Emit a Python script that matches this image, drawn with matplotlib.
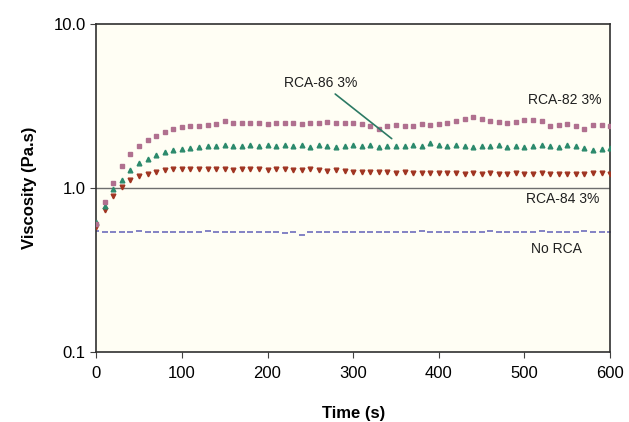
import matplotlib.pyplot as plt
from matplotlib.ticker import FixedLocator, FixedFormatter, NullLocator

plt.rcParams['font.family'] = ['Liberation Sans', 'DejaVu Sans']

time_s = list(range(0, 601, 10))

rca82 = [0.60, 0.82, 1.08, 1.36, 1.62, 1.80, 1.96, 2.08, 2.20, 2.30,
         2.36, 2.38, 2.40, 2.42, 2.44, 2.55, 2.48, 2.48, 2.50, 2.50,
         2.46, 2.48, 2.50, 2.50, 2.44, 2.50, 2.50, 2.52, 2.50, 2.50,
         2.48, 2.45, 2.38, 2.30, 2.40, 2.42, 2.38, 2.40, 2.45, 2.42,
         2.45, 2.50, 2.58, 2.62, 2.70, 2.62, 2.58, 2.52, 2.50, 2.52,
         2.60, 2.60, 2.58, 2.40, 2.42, 2.44, 2.38, 2.30, 2.42, 2.42,
         2.40]

rca86 = [0.62, 0.78, 0.98, 1.12, 1.28, 1.42, 1.50, 1.60, 1.65, 1.70,
         1.74, 1.76, 1.78, 1.80, 1.80, 1.82, 1.80, 1.81, 1.83, 1.80,
         1.82, 1.80, 1.84, 1.80, 1.82, 1.79, 1.82, 1.80, 1.78, 1.80,
         1.83, 1.80, 1.82, 1.78, 1.80, 1.81, 1.80, 1.82, 1.80, 1.88,
         1.82, 1.80, 1.83, 1.81, 1.78, 1.80, 1.80, 1.82, 1.79, 1.80,
         1.78, 1.80, 1.82, 1.80, 1.79, 1.84, 1.80, 1.76, 1.70, 1.72,
         1.75]

rca84 = [0.58, 0.73, 0.89, 1.02, 1.12, 1.18, 1.22, 1.25, 1.28, 1.30,
         1.30, 1.31, 1.30, 1.30, 1.31, 1.30, 1.29, 1.30, 1.31, 1.30,
         1.29, 1.30, 1.30, 1.29, 1.28, 1.30, 1.29, 1.27, 1.28, 1.27,
         1.26, 1.26, 1.25, 1.25, 1.26, 1.24, 1.25, 1.24, 1.23, 1.24,
         1.23, 1.24, 1.23, 1.22, 1.23, 1.22, 1.23, 1.22, 1.22, 1.23,
         1.22, 1.22, 1.23, 1.22, 1.22, 1.21, 1.22, 1.22, 1.23, 1.23,
         1.22]

no_rca = [0.55, 0.54, 0.54, 0.54, 0.54, 0.55, 0.54, 0.54, 0.54, 0.54,
          0.54, 0.54, 0.54, 0.55, 0.54, 0.54, 0.54, 0.54, 0.54, 0.54,
          0.54, 0.54, 0.53, 0.54, 0.52, 0.54, 0.54, 0.54, 0.54, 0.54,
          0.54, 0.54, 0.54, 0.54, 0.54, 0.54, 0.54, 0.54, 0.55, 0.54,
          0.54, 0.54, 0.54, 0.54, 0.54, 0.54, 0.55, 0.54, 0.54, 0.54,
          0.54, 0.54, 0.55, 0.54, 0.54, 0.54, 0.54, 0.55, 0.54, 0.54,
          0.54]

fig = plt.figure(figsize=(6.29, 4.22), dpi=100)
ax = fig.add_axes([0.153, 0.166, 0.817, 0.777])
ax.set_facecolor('#fffef4')

ax.axhline(1.0, color='#6e6e6e', lw=1.0, zorder=1)

ax.plot(time_s, no_rca, ls='none', marker='_', ms=5, mew=1.3, color='#7a78c0', zorder=2)
ax.plot(time_s, rca84, ls='none', marker='v', ms=3.4, color='#a03522', zorder=3)
ax.plot(time_s, rca86, ls='none', marker='^', ms=3.4, color='#2c8a6c', zorder=3)
ax.plot(time_s, rca82, ls='none', marker='s', ms=3.2, color='#b0708f', zorder=3)

ax.set_yscale('log')
ax.set_xlim(0, 600)
ax.set_ylim(0.1, 10)
ax.xaxis.set_major_locator(FixedLocator([0, 100, 200, 300, 400, 500, 600]))
ax.yaxis.set_major_locator(FixedLocator([0.1, 1.0, 10.0]))
ax.yaxis.set_major_formatter(FixedFormatter(['0.1', '1.0', '10.0']))
ax.yaxis.set_minor_locator(NullLocator())
ax.tick_params(labelsize=12, direction='out', length=4, color='#404040')
ax.tick_params(axis='x', pad=6)

ax.set_xlabel('Time (s)', fontsize=12, fontweight='bold', labelpad=18)
ax.set_ylabel('Viscosity (Pa.s)', fontsize=12, fontweight='bold', labelpad=12)

for sp in ax.spines.values():
    sp.set_color('#303030')
    sp.set_linewidth(1.2)

ax.annotate('RCA-86 3%', xy=(345, 2.0), xytext=(262, 4.4), fontsize=10,
            ha='center', va='center', color='#202020',
            arrowprops=dict(arrowstyle='-', color='#2c7a64', lw=1.2,
                            shrinkA=2, shrinkB=0,
                            connectionstyle='arc3'))
ax.text(547, 3.44, 'RCA-82 3%', fontsize=10, ha='center', va='center', color='#202020')
ax.text(545, 0.86, 'RCA-84 3%', fontsize=10, ha='center', va='center', color='#202020')
ax.text(537, 0.425, 'No RCA', fontsize=10, ha='center', va='center', color='#202020')

fig.savefig('out.png', dpi=100)
